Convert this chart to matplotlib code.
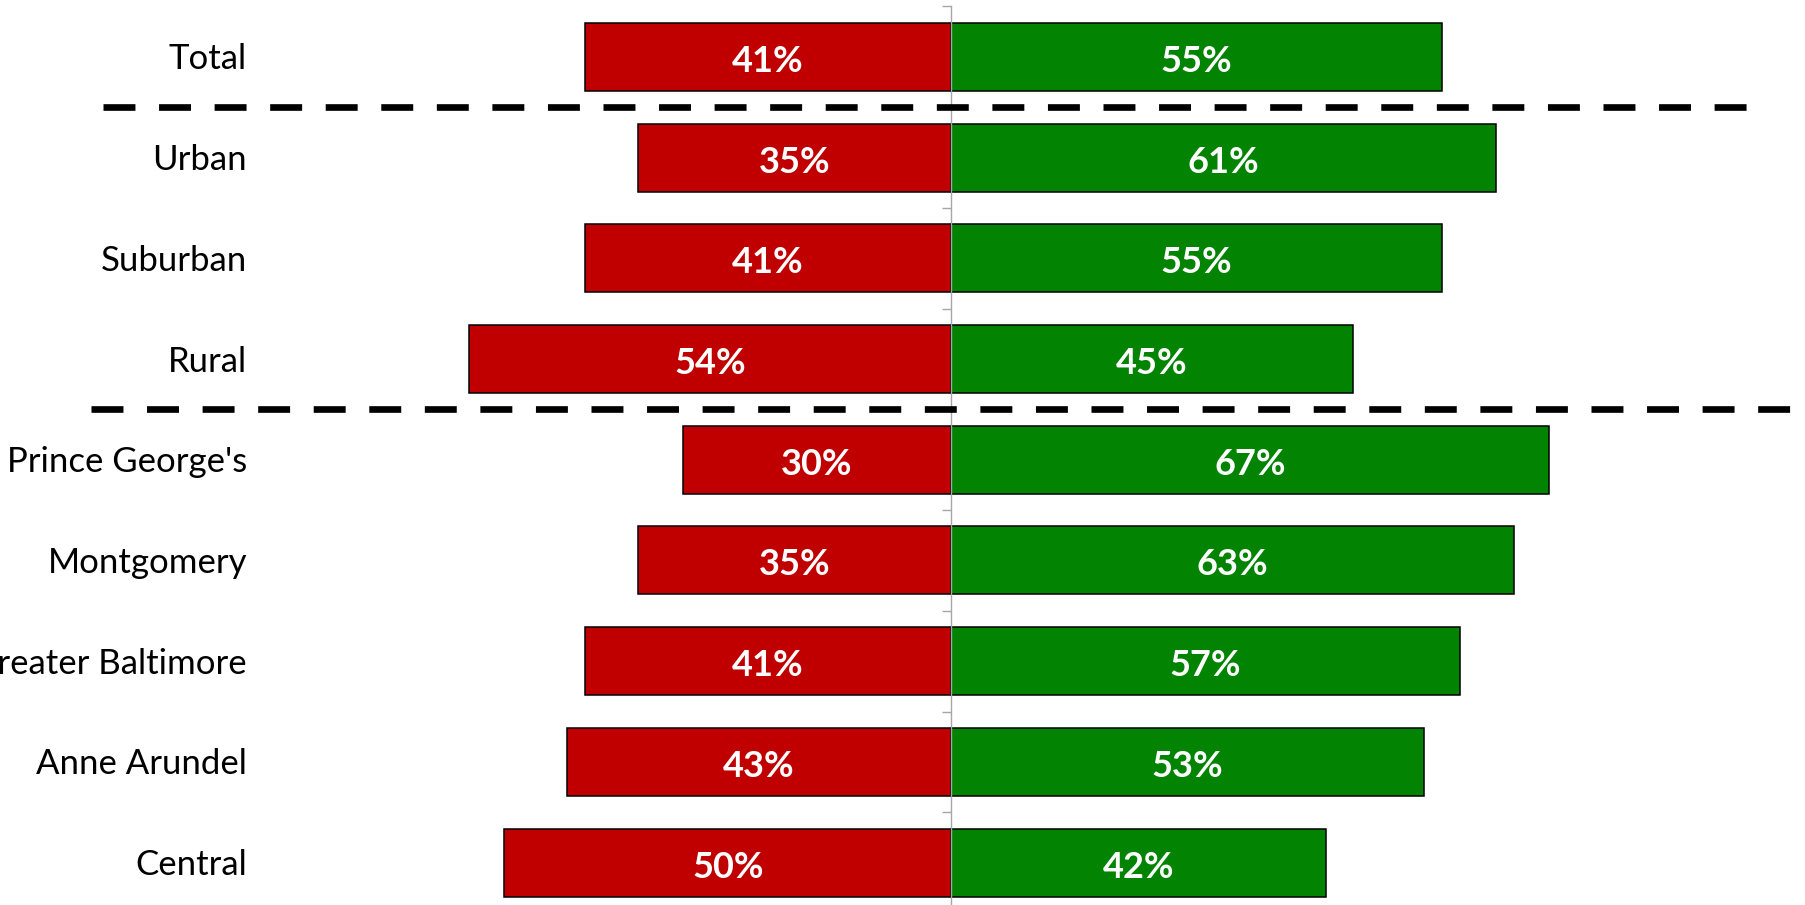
#!/usr/bin/env python3
# Diverging bar chart: red (oppose) vs green (support) by region

import matplotlib
matplotlib.use('Agg')
import matplotlib.pyplot as plt
import matplotlib.transforms as mtransforms

plt.rcParams['font.family'] = ['Lato', 'DejaVu Sans']

############################################################

categories = ['Total', 'Urban', 'Suburban', 'Rural', "Prince George's",
              'Montgomery', 'Greater Baltimore', 'Anne Arundel', 'Central']
red_vals   = [41, 35, 41, 54, 30, 35, 41, 43, 50]
green_vals = [55, 61, 55, 45, 67, 63, 57, 53, 42]

# group separators sit between these rows
separators = [0.5, 3.5]

############################################################

W, H = 1806, 905
fig = plt.figure(figsize=(W / 100, H / 100), dpi=100, facecolor='white')

# axes spans whole width; zero line at x=951px, 8.93px per percent
px_per_pct = 8.93
zero_px = 951
ax = fig.add_axes([0, 1 - 913 / H, 1, (913 - 6.5) / H])
ax.set_xlim(-zero_px / px_per_pct, (W - zero_px) / px_per_pct)
ax.set_ylim(len(categories) - 0.5, -0.5)

red = '#C00000'
green = '#028402'
ypos = list(range(len(categories)))

ax.barh(ypos, [-v for v in red_vals], height=0.675, color=red,
        edgecolor='black', linewidth=1.1, zorder=1)
ax.barh(ypos, green_vals, height=0.675, color=green,
        edgecolor='black', linewidth=1.1, zorder=1)

# value labels centred in the bars (baseline a bit below centre, like Excel)
val_dy = 0.149
for i, (r, g) in enumerate(zip(red_vals, green_vals)):
    ax.text(-r / 2, i + val_dy, f'{r}%', ha='center', va='baseline',
            color='white', fontsize=26, fontweight='bold')
    ax.text(g / 2, i + val_dy, f'{g}%', ha='center', va='baseline',
            color='white', fontsize=26, fontweight='bold')

# category labels, right aligned
lab_tr = mtransforms.blended_transform_factory(fig.transFigure, ax.transData)
lab_dy = 0.124
for i, c in enumerate(categories):
    ax.text(247 / W, i + lab_dy, c, transform=lab_tr, ha='right',
            va='baseline', fontsize=25, color='black', clip_on=False)

# spines / ticks: only the centre line with ticks at row boundaries
for s in ['top', 'right', 'bottom']:
    ax.spines[s].set_visible(False)
ax.spines['left'].set_position(('data', 0))
ax.spines['left'].set_color('#A6A6A6')
ax.spines['left'].set_linewidth(1.0)
ax.spines['left'].set_zorder(3)
ax.set_yticks([i - 0.5 for i in range(len(categories) + 1)])
ax.set_yticklabels([])
ax.tick_params(axis='y', direction='out', length=6.5, width=1.0, color='#A6A6A6')
ax.set_xticks([])
ax.patch.set_visible(False)

# dashed group separators (figure-x, data-y)
lw = 4.8
dash = (0, (23 / lw, 17 / lw))
ax.plot([103 / W, 1749 / W], [separators[0]] * 2, transform=lab_tr,
        color='black', linewidth=lw, linestyle=dash, clip_on=False, zorder=4)
ax.plot([91 / W, 1.05], [separators[1]] * 2, transform=lab_tr,
        color='black', linewidth=lw, linestyle=dash, clip_on=False, zorder=4)

plt.savefig('out.png', dpi=100, facecolor='white')
